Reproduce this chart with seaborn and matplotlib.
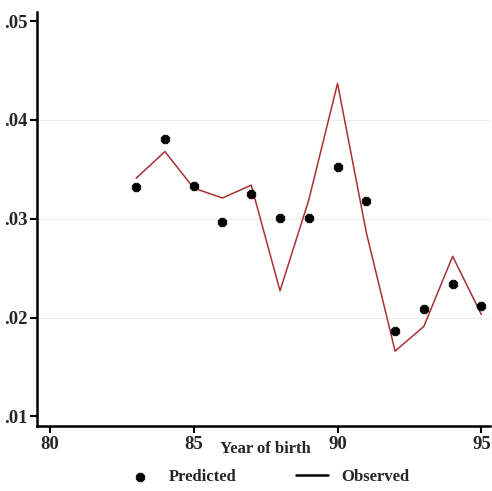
import pandas as pd
import matplotlib
matplotlib.use("Agg")
import matplotlib.pyplot as plt
import seaborn as sns

# values
years = [83, 84, 85, 86, 87, 88, 89, 90, 91, 92, 93, 94, 95]
predicted = [0.0332, 0.0381, 0.0333, 0.0297, 0.0325, 0.0301, 0.0301,
             0.0352, 0.0318, 0.0186, 0.0209, 0.0234, 0.0212]
observed = [0.0341, 0.0368, 0.0331, 0.0321, 0.0334, 0.0227, 0.0319,
            0.0437, 0.0286, 0.0166, 0.0191, 0.0262, 0.0203]
x_ticks = [80, 85, 90, 95]
y_ticks = [0.01, 0.02, 0.03, 0.04, 0.05]
y_labels = [".01", ".02", ".03", ".04", ".05"]

df = pd.DataFrame({"year": years, "predicted": predicted, "observed": observed})

sns.set_style("white")
plt.rcParams["font.family"] = ["Liberation Serif", "DejaVu Serif"]
plt.rcParams["font.weight"] = "bold"

fig = plt.figure(figsize=(4.92, 4.91), dpi=100)
ax = fig.add_axes([0.075, 0.132, 0.921, 0.843])

for yv in [0.02, 0.03, 0.04]:
    ax.axhline(yv, color="#eeeeee", lw=0.8, zorder=0)

sns.scatterplot(data=df, x="year", y="predicted", ax=ax, color="black",
                marker="8", s=45, edgecolor="black", label="Predicted", zorder=3)
sns.lineplot(data=df, x="year", y="observed", ax=ax, color="#a83232",
             lw=1.1, label="Observed", zorder=2)

ax.set_xlim(79.55, 95.3)
ax.set_ylim(0.0090, 0.0509)
ax.set_xticks(x_ticks)
ax.set_xticklabels([str(t) for t in x_ticks])
ax.set_yticks(y_ticks)
ax.set_yticklabels(y_labels)
ax.set_xlabel("")
ax.set_ylabel("")
ax.tick_params(axis="both", labelsize=13.5, length=5, width=1.5, color="black",
               bottom=True, left=True, pad=2)

for side in ["top", "right"]:
    ax.spines[side].set_visible(False)
for side in ["left", "bottom"]:
    ax.spines[side].set_linewidth(1.8)
    ax.spines[side].set_color("black")

ax.text(87.5, -0.035, "Year of birth", transform=ax.get_xaxis_transform(),
        ha="center", va="top", fontsize=12, fontweight="bold")

handles, labels = ax.get_legend_handles_labels()
handles[1] = plt.Line2D([], [], color="black", lw=1.8)
ax.legend(handles, labels, loc="center", bbox_to_anchor=(0.507, -0.123),
          ncol=2, frameon=False, fontsize=12, columnspacing=3.6,
          handlelength=1.9, handletextpad=0.8, markerscale=1.0)

fig.savefig("out.png", dpi=100)
